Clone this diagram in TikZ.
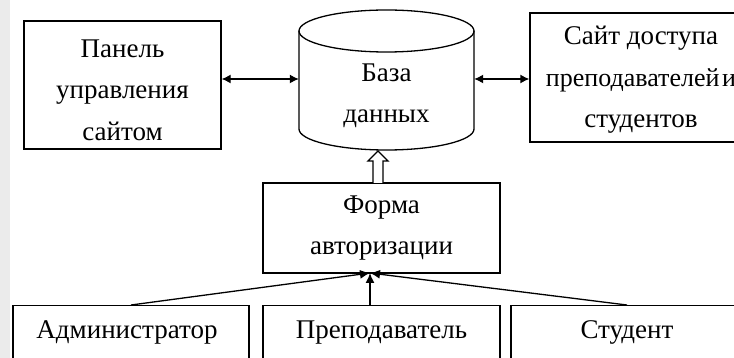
\documentclass[tikz,border=0pt]{standalone}
\usepackage{fontspec}
\setmainfont{Liberation Serif}
\usetikzlibrary{arrows.meta}
\begin{document}
\begin{tikzpicture}[x=1pt,y=-1pt,
  box/.style={draw, line width=1.3pt, inner sep=0pt},
  txt/.style={font=\fontsize{27}{41.5}\selectfont, align=center, inner sep=0pt},
  link/.style={line width=1.3pt, -{Latex[length=10pt,width=9pt]}},
  both/.style={line width=1.3pt, {Latex[length=9pt,width=9pt]}-{Latex[length=9pt,width=9pt]}}]
\useasboundingbox (0,0) rectangle (734,358);
\fill[white] (0,0) rectangle (734,358);
\fill[black!8] (0,0) rectangle (10,358);
\begin{scope}
\clip (0,0) rectangle (734,358);
% Panel
\node[box, minimum width=197pt, minimum height=128pt] (panel) at (122.5,85) {};
\node[txt] (paneltxt) at (122.5,90) {Панель\\управления\\сайтом};
% Database cylinder
\draw[line width=1.3pt, fill=white] (299,31) -- (299,129) arc[start angle=180,end angle=360,x radius=87.5pt,y radius=21pt] -- (474,31);
\draw[line width=1.3pt] (386.5,31) ellipse[x radius=87.5pt, y radius=21pt];
\node[minimum width=175pt, minimum height=140pt, inner sep=0pt] (db) at (386.5,79) {};
\node[txt] (dbtxt) at (386.5,96) {База\\данных};
% Site
\node[box, minimum width=224pt, minimum height=129pt] (site) at (642,77.5) {};
\node[txt] (sitetxt) at (641,80) {Сайт доступа\\{\fontsize{26}{41.5}\selectfont преподавателей\hspace{0.1em}и}\\студентов};
% Form
\node[box, minimum width=237pt, minimum height=90pt] (form) at (381.5,228) {};
\node[txt] (formtxt) at (381.5,228) {Форма\\авторизации};
% Bottom row
\node[box, minimum width=236pt, minimum height=80pt, anchor=north] (admin) at (131,305) {};
\node[txt, anchor=base] (admintxt) at (127,338) {Администратор};
\node[box, minimum width=237pt, minimum height=80pt, anchor=north] (prep) at (381.5,305) {};
\node[txt, anchor=base] (preptxt) at (381.5,338) {Преподаватель};
\node[box, minimum width=232pt, minimum height=80pt, anchor=north] (stud) at (627,305) {};
\node[txt, anchor=base] (studtxt) at (627,338) {Студент};
% Connectors
\draw[both] (panel.east |- db.west) -- (db.west);
\draw[both] (db.east) -- (db.east -| site.west);
\coordinate (conv) at (370,273);
\draw[link] (admin.north) -- (conv);
\draw[link] (conv |- prep.north) -- (conv);
\draw[link] (stud.north) -- (conv);
% Hollow arrow from form to database
\draw[line width=1.3pt, fill=white] (373,183) -- (373,161) -- (368,161) -- (378,151) -- (388,161) -- (383,161) -- (383,183);
\end{scope}
\end{tikzpicture}
\end{document}
